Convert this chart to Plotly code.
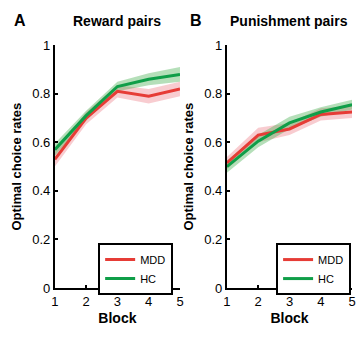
import plotly.graph_objects as go

blocks = [1, 2, 3, 4, 5]
groups = ["MDD", "HC"]

reward_mdd = [0.53, 0.70, 0.81, 0.79, 0.82]
reward_hc = [0.57, 0.71, 0.83, 0.86, 0.88]
reward_mdd_err = [0.03, 0.025, 0.025, 0.03, 0.03]
reward_hc_err = [0.025, 0.02, 0.02, 0.025, 0.03]

punish_mdd = [0.515, 0.63, 0.655, 0.715, 0.725]
punish_hc = [0.50, 0.605, 0.68, 0.725, 0.755]
punish_mdd_err = [0.025, 0.03, 0.025, 0.025, 0.025]
punish_hc_err = [0.025, 0.025, 0.025, 0.02, 0.02]

yticks = [0, 0.2, 0.4, 0.6, 0.8, 1]
yticktext = ["0", "0.2", "0.4", "0.6", "0.8", "1"]

line_colors = {"MDD": "#e63c36", "HC": "#0f9e48"}
band_colors = {"MDD": "rgba(235,110,120,0.35)", "HC": "rgba(70,175,80,0.4)"}

FONT = "Liberation Sans, Arial, sans-serif"

fig = go.Figure()


def add_panel(xa, ya, legend, series):
    for name, vals, err in series:
        upper = [v + e for v, e in zip(vals, err)]
        lower = [v - e for v, e in zip(vals, err)]
        fig.add_trace(go.Scatter(
            x=blocks + blocks[::-1], y=upper + lower[::-1], mode="lines",
            fill="toself", fillcolor=band_colors[name], line=dict(width=0),
            hoverinfo="skip", showlegend=False, xaxis=xa, yaxis=ya))
    for name, vals, err in series:
        fig.add_trace(go.Scatter(
            x=blocks, y=vals, mode="lines", name=name,
            line=dict(color=line_colors[name], width=3),
            xaxis=xa, yaxis=ya, legend=legend))


add_panel("x", "y", "legend",
          [("MDD", reward_mdd, reward_mdd_err), ("HC", reward_hc, reward_hc_err)])
add_panel("x2", "y2", "legend2",
          [("MDD", punish_mdd, punish_mdd_err), ("HC", punish_hc, punish_hc_err)])

ydom = [1 - 294 / 339, 1 - 40 / 339]
axis_common = dict(showline=True, linecolor="black", linewidth=2, ticks="inside",
                   ticklen=3, tickwidth=1.5, tickcolor="black", showgrid=False,
                   zeroline=False, tickfont=dict(family=FONT, size=13, color="black"))

xtitle = dict(text="<b>Block</b>", font=dict(family=FONT, size=14, color="black"), standoff=6)
ytitle = dict(text="<b>Optimal choice rates</b>", font=dict(family=FONT, size=13, color="black"), standoff=8)

fig.update_layout(
    width=359, height=339,
    margin=dict(l=0, r=0, t=0, b=0),
    paper_bgcolor="white", plot_bgcolor="white",
    showlegend=True,
    xaxis=dict(domain=[52 / 359, 180 / 359], range=[1, 5], tickvals=blocks,
               title=xtitle, anchor="y", **axis_common),
    yaxis=dict(domain=ydom, range=[0, 1], tickvals=yticks, ticktext=yticktext,
               title=ytitle, anchor="x", **axis_common),
    xaxis2=dict(domain=[228 / 359, 356 / 359], range=[1, 5], tickvals=blocks,
                title=xtitle, anchor="y2", **axis_common),
    yaxis2=dict(domain=ydom, range=[0, 1], tickvals=yticks, ticktext=yticktext,
                title=ytitle, anchor="x2", **axis_common),
    legend=dict(x=173 / 359, y=1 - 247 / 339, xanchor="right", yanchor="top",
                bgcolor="white", bordercolor="black", borderwidth=2,
                font=dict(family=FONT, size=11, color="black"),
                tracegroupgap=2, itemwidth=30),
    legend2=dict(x=355 / 359, y=1 - 247 / 339, xanchor="right", yanchor="top",
                 bgcolor="white", bordercolor="black", borderwidth=2,
                 font=dict(family=FONT, size=11, color="black"),
                 tracegroupgap=2, itemwidth=30),
    annotations=[
        dict(text="<b>A</b>", x=16 / 359, y=1 - 14 / 339, xref="paper", yref="paper",
             xanchor="center", yanchor="middle",
             showarrow=False, font=dict(family=FONT, size=16, color="black")),
        dict(text="<b>B</b>", x=196 / 359, y=1 - 14 / 339, xref="paper", yref="paper",
             xanchor="center", yanchor="middle",
             showarrow=False, font=dict(family=FONT, size=16, color="black")),
        dict(text="<b>Reward pairs</b>", x=116 / 359, y=1 - 15 / 339, xref="paper", yref="paper",
             xanchor="center", yanchor="middle",
             showarrow=False, font=dict(family=FONT, size=14, color="black")),
        dict(text="<b>Punishment pairs</b>", x=292 / 359, y=1 - 15 / 339, xref="paper", yref="paper",
             xanchor="center", yanchor="middle",
             showarrow=False, font=dict(family=FONT, size=14, color="black")),
    ],
)

fig.write_html("out.html")
